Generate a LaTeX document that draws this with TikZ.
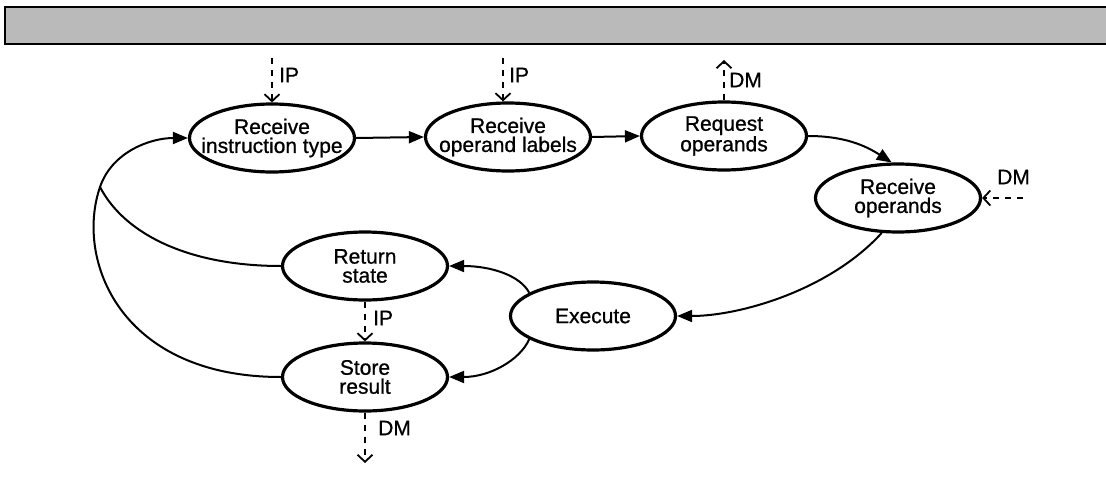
\documentclass[tikz,border=0pt]{standalone}
\usepackage{fontspec}
\setmainfont[FakeBold=0.8]{Liberation Sans}
\usetikzlibrary{shapes.geometric,arrows.meta}

\begin{document}
\begin{tikzpicture}[x=1pt,y=-1pt,
  state/.style={ellipse,draw,line width=3.2pt,minimum width=165pt,minimum height=68pt,inner sep=0pt},
  txt/.style={font=\fontsize{21}{19}\selectfont,align=center,inner sep=0pt},
  flow/.style={line width=2pt,-{Triangle[length=15pt,width=12pt]}},
  plain/.style={line width=2pt},
  bus/.style={line width=1.8pt,dash pattern=on 6pt off 6pt,
    -{Straight Barb[length=7pt,width=15pt,line width=1.8pt]}},
  tag/.style={font=\fontsize{21}{21}\selectfont,anchor=west,inner sep=0pt}]
\useasboundingbox (0,0) rectangle (1106,498);

% title band
\draw[line width=2.4pt,fill=black!27] (5,7) rectangle (1115,44);

% states
\node[state,label={[txt]center:{Receive\\instruction type}}] (rit) at (272,138) {};
\node[state,label={[txt]center:{Receive\\operand labels}}]   (rol) at (508,137) {};
\node[state,label={[txt]center:{Request\\operands}}]         (rqo) at (724,136) {};
\node[state,label={[txt]center:{Receive\\operands}}]         (ro)  at (898,198) {};
\node[state,label={[txt]center:{Execute}}]                   (ex)  at (593,316) {};
\node[state,label={[txt]center:{Return\\state}}]             (rs)  at (365,266) {};
\node[state,label={[txt]center:{Store\\result}}]             (sr)  at (365,377) {};

% control flow
\draw[flow] (rit.east) -- (rol.west);
\draw[flow] (rol.east) -- (rqo.west);
\draw[flow] (rqo.east) .. controls (845,136) and (866,146) .. (ro.100);
\draw[flow] (ro.245) .. controls (830,290) and (740,316) .. (ex.east);
\draw[flow] (ex.160) .. controls (520,275) and (490,266) .. (rs.east);
\draw[flow] (ex.200) .. controls (520,360) and (490,377) .. (sr.east);

\coordinate (join) at (100,187);
\draw[flow] (sr.west) .. controls (120,377) and (75,260) .. (join)
            .. controls (112,152) and (150,138) .. (rit.west);
\draw[plain] (rs.west) .. controls (190,266) and (125,235) .. (join);

% bus traffic
\coordinate (ipA) at (272,58);
\coordinate (ipB) at (503,58);
\coordinate (dmA) at (724,60);
\coordinate (dmB) at (1023,198);
\coordinate (dmC) at (365,463);

\draw[bus] (ipA) -- (rit.north);
\draw[bus] (ipB) -- (ipB |- rol.north);
\draw[bus] (rqo.north) -- (dmA);
\draw[bus] (dmB) -- (ro.east);
\draw[bus] (rs.south) -- (sr.north);
\draw[bus] (sr.south) -- (dmC);

\node[tag] (tIPA) at (279,75)  {IP};
\node[tag] (tIPB) at (509,75)  {IP};
\node[tag] (tDMA) at (729,80)  {DM};
\node[tag] (tDMB) at (997,177) {DM};
\node[tag] (tIPC) at (373,318) {IP};
\node[tag] (tDMC) at (378,428) {DM};
\end{tikzpicture}
\end{document}
